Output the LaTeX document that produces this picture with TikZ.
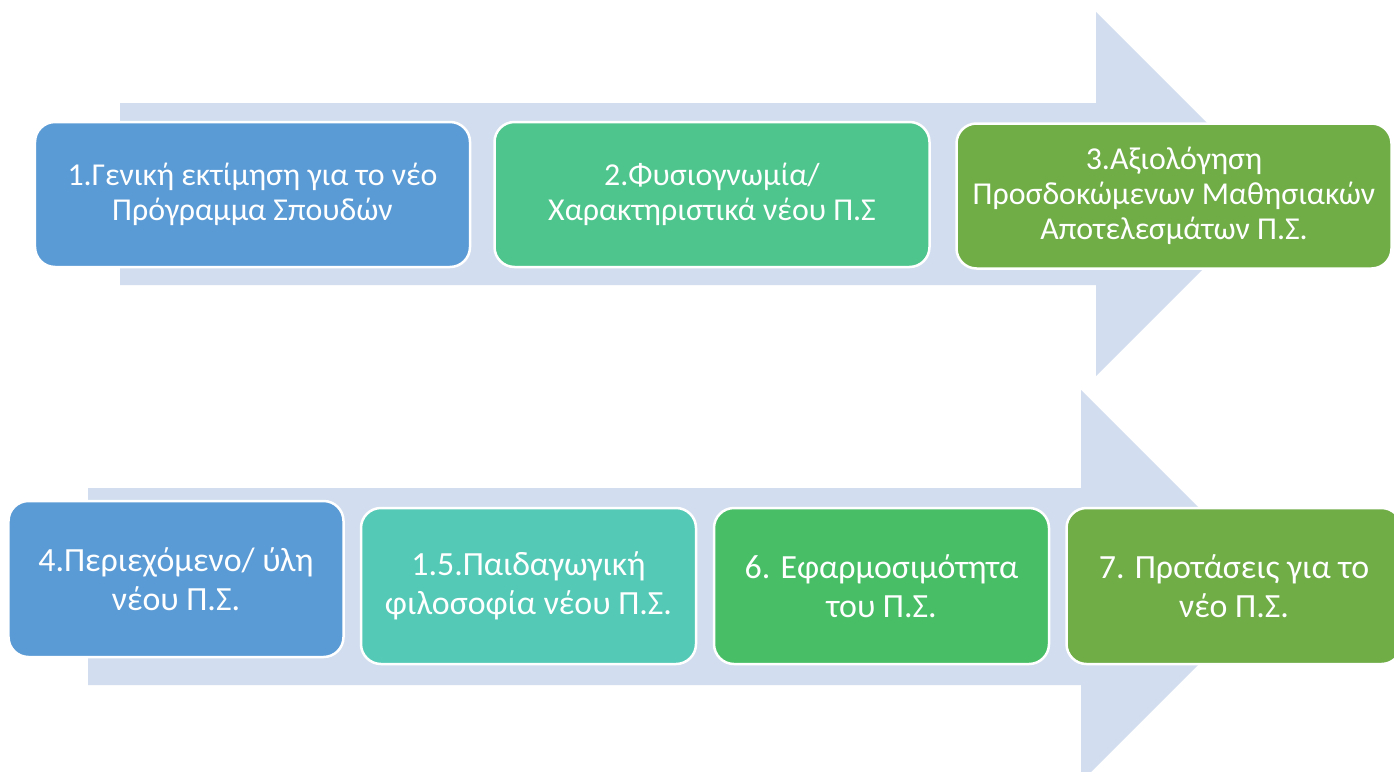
\documentclass[tikz,border=0pt]{standalone}
\usepackage{fontspec}
\setmainfont{Carlito}
\definecolor{arrowbg}{HTML}{D2DEEF}
\definecolor{cblue}{HTML}{5B9BD5}
\definecolor{cgreenA}{HTML}{4FC58E}
\definecolor{colive}{HTML}{70AD47}
\definecolor{cteal}{HTML}{54C9B6}
\definecolor{cgreenB}{HTML}{48BF67}
\tikzset{
  stepbox/.style={draw=white, line width=2.5bp, rounded corners=20bp, text=white, align=center, inner sep=0pt},
  topbox/.style={stepbox, minimum width=435bp, minimum height=145bp, font=\fontsize{32}{35}\selectfont},
  botbox/.style={stepbox, minimum width=335bp, minimum height=156bp, font=\fontsize{34}{39}\selectfont},
  bigarrow/.style={fill=arrowbg, draw=none}
}
\begin{document}
\begin{tikzpicture}[x=1bp, y=-1bp]
\clip (0,0) rectangle (1394,771);
\fill[white] (0,0) rectangle (1394,771);
% background arrows
\path[bigarrow] (120,103) -- (1096,103) -- (1096,12) -- (1278,194) -- (1096,376) -- (1096,285) -- (120,285) -- cycle;
\path[bigarrow] (88,488) -- (1081,488) -- (1081,390) -- (1277,586) -- (1081,782) -- (1081,685) -- (88,685) -- cycle;
% top row
\node[topbox, fill=cblue] (s1) at (252.5,194.5) {1.Γενική εκτίμηση για το νέο\\Πρόγραμμα Σπουδών};
\node[topbox, fill=cgreenA] (s2) at (712,194.5) {2.Φυσιογνωμία/\\Χαρακτηριστικά νέου Π.Σ};
\node[topbox, fill=colive] (s3) at (1174,196) {3.Αξιολόγηση\\Προσδοκώμενων Μαθησιακών\\Αποτελεσμάτων Π.Σ.};
% bottom row
\node[botbox, fill=cblue] (s4) at (176,579) {4.Περιεχόμενο/ ύλη\\νέου Π.Σ.};
\node[botbox, fill=cteal] (s5) at (528.5,586) {1.5.Παιδαγωγική\\φιλοσοφία νέου Π.Σ.};
\node[botbox, fill=cgreenB] (s6) at (881.5,586) {6. Εφαρμοσιμότητα\\του Π.Σ.};
\node[botbox, fill=colive] (s7) at (1234,586) {7. Προτάσεις για το\\νέο Π.Σ.};
\end{tikzpicture}
\end{document}
